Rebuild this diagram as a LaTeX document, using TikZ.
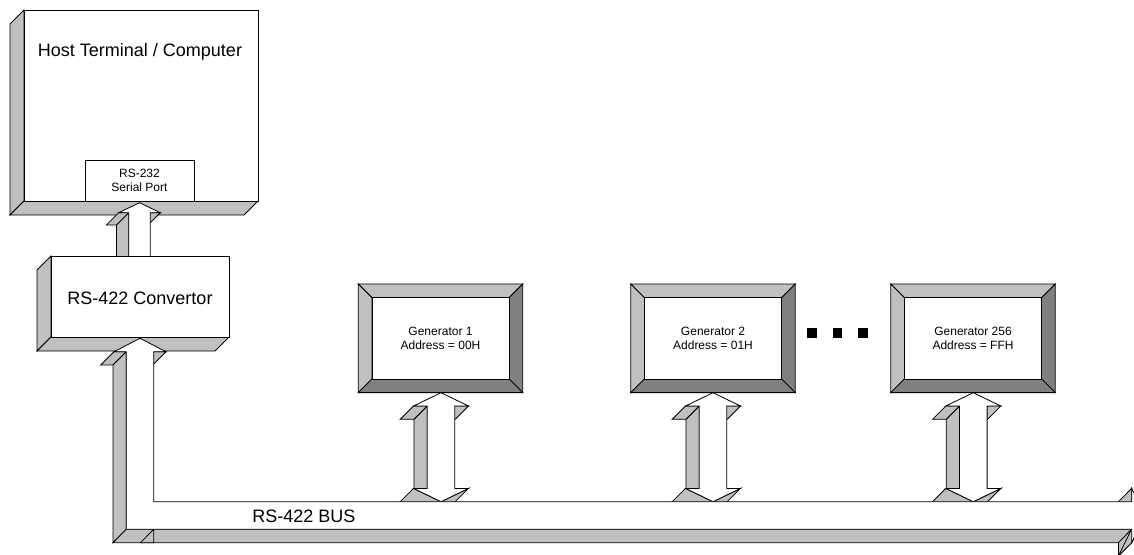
\documentclass[tikz,border=0pt]{standalone}
\usepackage{fontspec}
\setmainfont{Liberation Sans}
\definecolor{facegray}{HTML}{C0C0C0}
\definecolor{shadegray}{HTML}{808080}

\tikzset{
  edge/.style={draw=black, line width=0.8pt, line join=miter},
  side/.style={edge, fill=facegray},
  dark/.style={edge, fill=shadegray},
  face/.style={edge, fill=white},
  bigtext/.style={font=\fontsize{18}{21}\selectfont, inner sep=0pt},
  smalltext/.style={font=\fontsize{12}{13.5}\selectfont, align=center, inner sep=0pt},
  dotmark/.style={fill=black, draw=none, minimum size=9.5pt, inner sep=0pt},
  % bevelled generator frame, origin at its centre
  pics/genframe/.style={code={
    \path[side] (-82.2,-54.3) -- (82.2,-54.3) -- (68.5,-40.6) -- (-68.5,-40.6) -- cycle;
    \path[side] (-82.2,-54.3) -- (-68.5,-40.6) -- (-68.5,40.6) -- (-82.2,54.3) -- cycle;
    \path[dark] (82.2,-54.3) -- (82.2,54.3) -- (68.5,40.6) -- (68.5,-40.6) -- cycle;
    \path[dark] (-82.2,54.3) -- (-68.5,40.6) -- (68.5,40.6) -- (82.2,54.3) -- cycle;
    \path[face] (-68.5,-40.6) rectangle (68.5,40.6);
  }},
  % solid double-headed link, origin at the upper tip
  pics/duplexlink/.style={code={
    \path[side] (-13.8,13.3) -- (-13.8,95.7) -- (-27.1,109) -- (-27.1,26.6) -- cycle;
    \path[side] (-27.5,13.3) -- (-13.8,13.3) -- (-27.1,26.6) -- (-40.8,26.6) -- cycle;
    \path[side] (13.8,13.3) -- (27.5,13.3) -- (14.2,26.6) -- (0.5,26.6) -- cycle;
    \path[side] (-27.5,95.7) -- (0,109) -- (-13.3,122.3) -- (-40.8,109) -- cycle;
    \path[side] (0,109) -- (27.5,95.7) -- (14.2,109) -- (-13.3,122.3) -- cycle;
    \path[face] (0,0) -- (27.5,13.3) -- (13.8,13.3) -- (13.8,95.7) -- (27.5,95.7)
      -- (0,109) -- (-27.5,95.7) -- (-13.8,95.7) -- (-13.8,13.3) -- (-27.5,13.3) -- cycle;
  }},
  % solid single-headed link pointing up, origin at the tip
  pics/uplink/.style={code={
    \path[side] (-10.8,10) -- (-10.8,70) -- (-23.1,82.3) -- (-23.1,22.3) -- cycle;
    \path[side] (-20.8,10) -- (-10.8,10) -- (-23.1,22.3) -- (-33.1,22.3) -- cycle;
    \path[side] (10.8,10) -- (20.8,10) -- (8.5,22.3) -- (-1.5,22.3) -- cycle;
    \path[face] (0,0) -- (20.8,10) -- (10.8,10) -- (10.8,70) -- (-10.8,70)
      -- (-10.8,10) -- (-20.8,10) -- cycle;
  }}
}

\begin{document}
\begin{tikzpicture}[x=1pt,y=-1pt]
  \useasboundingbox (0,0) rectangle (1134,554);
  \clip (0,0) rectangle (1134,554);
  \fill[white] (0,0) rectangle (1134,554);

  % anchor points of the links
  \coordinate (portin) at (139.5,202.7);
  \coordinate (convin) at (140,338.3);
  \coordinate (g1in) at (441,392.7);
  \coordinate (g2in) at (713,392.7);
  \coordinate (g3in) at (973.3,392.7);

  % host terminal
  \path[side] (24,10) -- (24,201) -- (10,215) -- (10,24) -- cycle;
  \path[side] (24,201) -- (258,201) -- (244,215) -- (10,215) -- cycle;
  \path[face] (24,10) rectangle (258,201);
  \node[bigtext] (host) at (140,52) {Host Terminal / Computer};
  \path[face] (85,160) rectangle (194,201);
  \node[smalltext] (port) at (139.5,180.5) {RS-232\\Serial Port};

  % link between convertor and serial port
  \pic at (portin) {uplink};

  % RS-422 convertor
  \path[side] (51,256) -- (51,337) -- (37,351) -- (37,270) -- cycle;
  \path[side] (51,337) -- (229,337) -- (215,351) -- (37,351) -- cycle;
  \path[face] (51,256) rectangle (229,337);
  \node[bigtext] (conv) at (140,298) {RS-422 Convertor};

  % generators
  \pic at (440.5,338.3) {genframe};
  \pic at (713,338.3) {genframe};
  \pic at (973,338.3) {genframe};
  \node[smalltext] (gen1) at (440.5,338.3) {Generator 1\\Address = 00H};
  \node[smalltext] (gen2) at (713,338.3) {Generator 2\\Address = 01H};
  \node[smalltext] (gen3) at (973,338.3) {Generator 256\\Address = FFH};

  % ellipsis between generators
  \node[dotmark] (dot1) at (812,333) {};
  \node[dotmark] (dot2) at (837.5,333) {};
  \node[dotmark] (dot3) at (863,333) {};

  % generator drops onto the bus
  \pic at (g1in) {duplexlink};
  \pic at (g2in) {duplexlink};
  \pic at (g3in) {duplexlink};

  % RS-422 bus: side faces
  \path[side] (114,351.7) -- (126.3,351.7) -- (113,365) -- (100.7,365) -- cycle;
  \path[side] (153.7,351.7) -- (166,351.7) -- (152.7,365) -- (140.4,365) -- cycle;
  \path[side] (126.3,351.7) -- (126.3,529.3) -- (113,542.7) -- (113,365) -- cycle;
  \path[side] (126.3,529.3) -- (1131.7,529.3) -- (1118.4,542.7) -- (113,542.7) -- cycle;
  \path[side] (153.7,529.3) -- (153.7,542.7) -- (140.4,542.7) -- cycle;
  \path[side] (1131.7,488.3) -- (1131.7,501.7) -- (1118.4,515) -- (1118.4,501.7) -- cycle;
  \path[side] (1131.7,529.3) -- (1131.7,542.7) -- (1118.4,556) -- (1118.4,542.7) -- cycle;
  \path[side] (1131.7,542.7) -- (1145,515.5) -- (1131.7,528.8) -- (1118.4,556) -- cycle;
  % RS-422 bus: front face
  \path[face] (convin) -- (166,351.7) -- (153.7,351.7) -- (153.7,501.7) -- (1131.7,501.7)
    -- (1131.7,488.3) -- (1145,515.5) -- (1131.7,542.7) -- (1131.7,529.3)
    -- (126.3,529.3) -- (126.3,351.7) -- (114,351.7) -- cycle;
  \node[bigtext] (bus) at (304,516) {RS-422 BUS};
\end{tikzpicture}
\end{document}
